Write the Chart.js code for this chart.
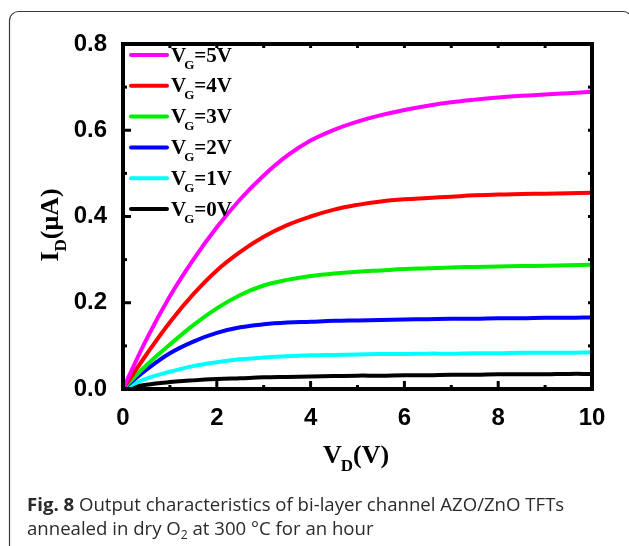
<!DOCTYPE html>
<html><head><meta charset="utf-8">
<script src="https://cdn.jsdelivr.net/npm/chart.js@4"></script>
<style>html,body{margin:0;padding:0;background:#fff;}canvas{display:block;}</style>
</head><body>
<canvas id="c" width="629" height="546"></canvas>
<script>
// ---- data ----
const vd  = [0,0.5,1,1.5,2,2.5,3,3.5,4,4.5,5,5.5,6,6.5,7,7.5,8,8.5,9,9.5,10];
const vg5 = [0,0.115,0.215,0.300,0.375,0.440,0.495,0.541,0.576,0.601,0.620,0.635,0.647,0.657,0.665,0.671,0.676,0.680,0.683,0.686,0.689];
const vg4 = [0,0.080,0.155,0.220,0.275,0.318,0.353,0.380,0.400,0.416,0.427,0.435,0.440,0.443,0.446,0.449,0.451,0.452,0.453,0.454,0.455];
const vg3 = [0,0.055,0.103,0.148,0.187,0.218,0.240,0.253,0.262,0.268,0.272,0.275,0.278,0.280,0.282,0.283,0.284,0.285,0.286,0.287,0.288];
const vg2 = [0,0.045,0.083,0.110,0.130,0.143,0.150,0.154,0.156,0.158,0.159,0.160,0.161,0.162,0.163,0.163,0.164,0.164,0.165,0.165,0.166];
const vg1 = [0,0.024,0.040,0.053,0.062,0.069,0.073,0.076,0.078,0.079,0.080,0.081,0.081,0.082,0.082,0.083,0.083,0.084,0.084,0.084,0.085];
const vg0 = [0,0.010,0.016,0.020,0.023,0.025,0.027,0.028,0.029,0.030,0.031,0.031,0.032,0.032,0.033,0.033,0.034,0.034,0.034,0.035,0.035];
const gateLabels = ['5V','4V','3V','2V','1V','0V'];
const seriesColors = ['#ff00ff','#ff0000','#00ee00','#0000ff','#00ffff','#000000'];
const xTickValues = [0,2,4,6,8,10];
const yTickValues = [0,0.2,0.4,0.6,0.8];
const captionBold = 'Fig. 8';
const captionLine1 = ' Output characteristics of bi-layer channel AZO/ZnO TFTs';
const captionLine2a = 'annealed in dry O';
const captionLine2sub = '2';
const captionLine2b = ' at 300 °C for an hour';

const seriesValues = [vg5,vg4,vg3,vg2,vg1,vg0];
const datasets = seriesValues.map((arr,i)=>({
  label: 'V_G=' + gateLabels[i],
  data: arr.map((v,j)=>({x: vd[j], y: v})),
  borderColor: seriesColors[i],
  backgroundColor: seriesColors[i],
  borderWidth: 4,
  pointRadius: 0,
  tension: 0.4,
  fill: false
}));

const SERIF = '"Liberation Serif","Times New Roman",serif';
const SANS = '"Liberation Sans",Arial,sans-serif';
const CAPFONT = '"Open Sans",sans-serif';

function drawSub(ctx, x, y, main, sub, rest, size, subSize, subDrop, subShift){
  ctx.font = 'bold ' + size + 'px ' + SERIF;
  ctx.fillText(main, x, y);
  let cx = x + ctx.measureText(main).width - subShift;
  ctx.font = 'bold ' + subSize + 'px ' + SERIF;
  ctx.fillText(sub, cx, y + subDrop);
  cx += ctx.measureText(sub).width;
  ctx.font = 'bold ' + size + 'px ' + SERIF;
  ctx.fillText(rest, cx, y);
  return cx + ctx.measureText(rest).width;
}

const decor = {
  id: 'decor',
  afterDatasetsDraw(chart){
    const ctx = chart.ctx, a = chart.chartArea;
    const xs = chart.scales.x, ys = chart.scales.y;
    ctx.save();
    ctx.strokeStyle = '#000';
    ctx.lineWidth = 3;
    ctx.lineCap = 'butt';
    for (let v = 0; v <= 10.001; v += 1){
      const px = xs.getPixelForValue(v);
      const major = Math.round(v) % 2 === 0;
      ctx.beginPath(); ctx.moveTo(px, a.bottom); ctx.lineTo(px, a.bottom - (major ? 8 : 4)); ctx.stroke();
      ctx.beginPath(); ctx.moveTo(px, a.top); ctx.lineTo(px, a.top + 4); ctx.stroke();
    }
    for (let k = 0; k <= 8; k++){
      const v = k * 0.1;
      const py = ys.getPixelForValue(v);
      const major = k % 2 === 0;
      ctx.beginPath(); ctx.moveTo(a.left, py); ctx.lineTo(a.left + (major ? 8 : 4), py); ctx.stroke();
      ctx.beginPath(); ctx.moveTo(a.right, py); ctx.lineTo(a.right - 4, py); ctx.stroke();
    }
    ctx.lineWidth = 4;
    ctx.lineJoin = 'miter';
    ctx.strokeRect(a.left, a.top, a.right - a.left, a.bottom - a.top);
    ctx.restore();
  },
  afterDraw(chart){
    const ctx = chart.ctx, a = chart.chartArea;
    ctx.save();
    // legend
    const row0 = a.top + 11, rowStep = 30.8;
    chart.data.datasets.forEach((ds, i) => {
      const y = row0 + i * rowStep;
      ctx.strokeStyle = ds.borderColor;
      ctx.lineWidth = 4;
      ctx.lineCap = 'round';
      ctx.beginPath(); ctx.moveTo(a.left + 8, y); ctx.lineTo(a.left + 44, y); ctx.stroke();
      ctx.fillStyle = '#000';
      ctx.textBaseline = 'alphabetic';
      ctx.textAlign = 'left';
      const parts = ds.label.split('_');
      const sub = parts[1].charAt(0), rest = parts[1].slice(1);
      drawSub(ctx, a.left + 48, y + 6.5, parts[0], sub, rest, 21, 13, 7, 2);
    });
    // x title
    ctx.fillStyle = '#000';
    drawSub(ctx, 323, 463, 'V', 'D', '(V)', 26, 17, 8, 1);
    // y title (rotated)
    ctx.save();
    ctx.font = 'bold 26px ' + SERIF;
    const w1 = ctx.measureText('I').width + ctx.measureText('(μA)').width;
    ctx.font = 'bold 17px ' + SERIF;
    const tot = w1 + ctx.measureText('D').width;
    ctx.translate(58, 225 + tot / 2);
    ctx.rotate(-Math.PI / 2);
    drawSub(ctx, 0, 0, 'I', 'D', '(μA)', 26, 17, 8, 0);
    ctx.restore();
    // caption
    const cap = 18.6;
    ctx.fillStyle = '#2a2a2a';
    ctx.font = 'bold ' + cap + 'px ' + CAPFONT;
    ctx.fillText(captionBold, 27, 511);
    let cx = 27 + ctx.measureText(captionBold).width;
    ctx.font = cap + 'px ' + CAPFONT;
    ctx.fillText(captionLine1, cx, 511);
    ctx.fillText(captionLine2a, 27, 535);
    cx = 27 + ctx.measureText(captionLine2a).width;
    ctx.font = (cap * 0.65) + 'px ' + CAPFONT;
    ctx.fillText(captionLine2sub, cx, 539);
    cx += ctx.measureText(captionLine2sub).width;
    ctx.font = cap + 'px ' + CAPFONT;
    ctx.fillText(captionLine2b, cx, 535);
    // outer rounded border
    ctx.strokeStyle = '#3a3a3a';
    ctx.lineWidth = 1.2;
    const L = 9.5, T = 11.5, R = 632, B = 560, r = 9;
    ctx.beginPath();
    ctx.moveTo(L, B);
    ctx.lineTo(L, T + r);
    ctx.arcTo(L, T, L + r, T, r);
    ctx.lineTo(R - r, T);
    ctx.arcTo(R, T, R, T + r, r);
    ctx.lineTo(R, B);
    ctx.stroke();
    ctx.restore();
  }
};

new Chart(document.getElementById('c'), {
  type: 'line',
  data: { datasets },
  options: {
    responsive: false,
    devicePixelRatio: 1,
    animation: false,
    layout: { padding: { left: 0, top: 44, right: 37, bottom: 0 } },
    plugins: { legend: { display: false }, tooltip: { enabled: false } },
    scales: {
      x: {
        type: 'linear', min: 0, max: 10,
        grid: { display: false },
        border: { display: false },
        afterFit: s => { s.height = 157; },
        afterBuildTicks: s => { s.ticks = xTickValues.map(v => ({ value: v })); },
        ticks: { color: '#000', padding: 7, maxRotation: 0, font: { family: SANS, size: 24, weight: 'bold' } }
      },
      y: {
        type: 'linear', min: 0, max: 0.8,
        grid: { display: false },
        border: { display: false },
        afterFit: s => { s.width = 123; },
        afterBuildTicks: s => { s.ticks = yTickValues.map(v => ({ value: v })); },
        ticks: { color: '#000', padding: 8, font: { family: SANS, size: 24, weight: 'bold' },
                 callback: v => Number(v).toFixed(1) }
      }
    }
  },
  plugins: [decor]
});
</script>
</body></html>
